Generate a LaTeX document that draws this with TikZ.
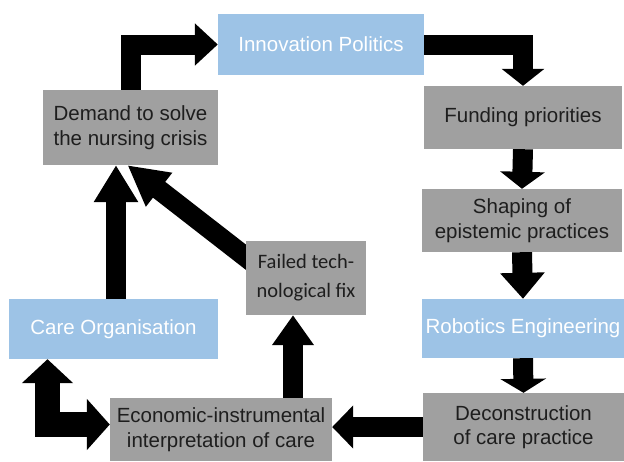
\documentclass[tikz,border=0pt]{standalone}
\usepackage{fontspec}
\setmainfont{Liberation Sans}
\newfontfamily\calibrifont{Carlito}
\usetikzlibrary{arrows.meta,calc}
\definecolor{boxblue}{HTML}{9DC3E6}
\definecolor{boxgray}{HTML}{A0A0A0}
\definecolor{txtdark}{HTML}{1E1E1E}
\pgfdeclarelayer{bg}
\pgfsetlayers{bg,main}
\begin{document}
\begin{tikzpicture}[x=1pt,y=-1pt,
  box/.style={inner sep=0pt, align=center, font=\fontsize{20.5}{24.5}\selectfont},
  bluebox/.style={box, fill=boxblue, text=white},
  graybox/.style={box, fill=boxgray, text=txtdark},
  flow/.style={line width=20pt, draw=black, line join=miter}
]
\useasboundingbox (0,0) rectangle (624,461);

\node[bluebox, minimum width=206pt, minimum height=61pt] (ip) at (321,44.5) {Innovation Politics};
\node[graybox, minimum width=198pt, minimum height=63pt] (fund) at (523,117.5) {Funding priorities};
\node[graybox, minimum width=200pt, minimum height=63pt] (shape) at (522,220.5) {Shaping of\\epistemic practices};
\node[bluebox, minimum width=202pt, minimum height=59pt] (robo) at (523,328.5) {Robotics Engineering};
\node[graybox, minimum width=201pt, minimum height=68pt] (decon) at (523.5,427) {Deconstruction\\of care practice};
\node[graybox, minimum width=222pt, minimum height=63pt] (econ) at (221,429.5) {Economic-instrumental\\interpretation of care};
\node[graybox, minimum width=120pt, minimum height=74pt, font=\calibrifont\fontsize{20.5}{29}\selectfont] (failed) at (306,278) {Failed tech-\\nological fix};
\node[bluebox, minimum width=209pt, minimum height=60pt] (care) at (113.5,329) {Care Organisation};
\node[graybox, minimum width=175pt, minimum height=75pt] (demand) at (130.5,127.5) {Demand to solve\\the nursing crisis};

\begin{pgfonlayer}{bg}
\draw[flow, -{Triangle[width=41pt,length=23pt]}] (demand.north) |- (ip.west);
\draw[flow, -{Triangle[width=42pt,length=17pt]}] (ip.east) -| (fund.north);
\draw[flow, -{Triangle[width=44pt,length=17pt]}] (fund.south) -- (shape.north);
\draw[flow, -{Triangle[width=43pt,length=26pt]}] (shape.south) -- (robo.north);
\draw[flow, -{Triangle[width=45pt,length=14pt]}] (robo.south) -- (decon.north);
\draw[flow, -{Triangle[width=42pt,length=21pt]}] (decon.west) -- (decon.west -| econ.east);
\draw[flow, -{Triangle[width=40pt,length=30pt]}] ($(failed.south |- econ.north)+(-13,0)$) -- ($(failed.south)+(-13,0)$);
\draw[flow, -{Triangle[width=40pt,length=40pt]}] ($(failed.west)+(14,-10)$) -- ($(demand.south)+(-3,0)$);
\draw[flow, -{Triangle[width=42pt,length=37pt]}] ($(care.north)+(2.5,0)$) -- ($(care.north |- demand.south)+(2.5,0)$);
\draw[flow, line width=25pt, {Triangle[width=50pt,length=24pt]}-{Triangle[width=50pt,length=23pt]}] ($(care.south)+(-66,0)$) |- ($(econ.west)+(0,-5)$);
\end{pgfonlayer}
\end{tikzpicture}
\end{document}
